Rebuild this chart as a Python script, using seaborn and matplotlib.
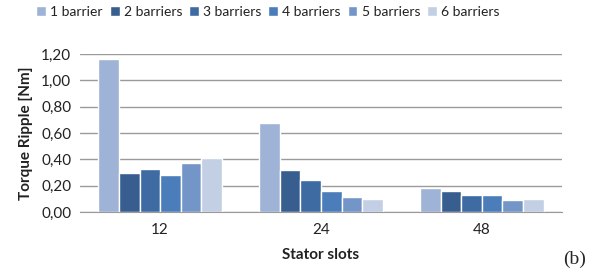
import seaborn as sns
import matplotlib.pyplot as plt
import pandas as pd
from matplotlib.ticker import FuncFormatter, FixedLocator

slots = ['12', '24', '48']
barriers = ['1 barrier', '2 barriers', '3 barriers', '4 barriers', '5 barriers', '6 barriers']
b1 = [1.16, 0.68, 0.18]
b2 = [0.30, 0.32, 0.16]
b3 = [0.33, 0.24, 0.13]
b4 = [0.28, 0.16, 0.13]
b5 = [0.37, 0.11, 0.09]
b6 = [0.41, 0.10, 0.10]
colors = ['#9EB3D5', '#375E8E', '#3E6BA2', '#4A7DB9', '#7395C8', '#C2CFE4']

rows = []
for name, vals in zip(barriers, [b1, b2, b3, b4, b5, b6]):
    for s, v in zip(slots, vals):
        rows.append({'slots': s, 'barrier': name, 'ripple': v})
df = pd.DataFrame(rows)

sns.set_style('white')
plt.rcParams['font.family'] = ['Lato', 'DejaVu Sans']

fig = plt.figure(figsize=(5.95, 2.76), dpi=100)
ax = fig.add_axes([0.134, 0.232, 0.811, 0.572])
sns.barplot(data=df, x='slots', y='ripple', hue='barrier', order=slots,
            hue_order=barriers, palette=colors, width=0.77, gap=0,
            saturation=1, ax=ax, legend=True)

ax.set_ylim(0, 1.2)
ax.set_xlim(-0.5, 2.5)
ax.set_yticks([0, 0.2, 0.4, 0.6, 0.8, 1.0, 1.2])
ax.yaxis.set_major_formatter(FuncFormatter(lambda v, p: f'{v:.2f}'.replace('.', ',')))
ax.grid(axis='y', color='#9A9A9A', linewidth=1)
ax.set_axisbelow(True)
for s in ['top', 'right', 'left']:
    ax.spines[s].set_visible(False)
ax.spines['bottom'].set_color('#9A9A9A')
ax.tick_params(axis='y', labelsize=11, length=0, pad=6, colors='#222222')
ax.tick_params(axis='x', labelsize=11, length=0, pad=8, colors='#222222')
ax.xaxis.set_minor_locator(FixedLocator([-0.5, 0.5, 1.5, 2.5]))
ax.tick_params(axis='x', which='minor', length=5, color='#9A9A9A', direction='out')
ax.set_xlabel('Stator slots', fontsize=11, fontweight='bold', labelpad=8, color='#222222')
ax.set_ylabel('Torque Ripple [Nm]', fontsize=11, fontweight='bold', labelpad=6, color='#222222')

handles, labels = ax.get_legend_handles_labels()
ax.legend(handles, labels, loc='upper center', bbox_to_anchor=(0.39, 1.385), ncol=6,
          frameon=False, fontsize=10, handlelength=0.7, handleheight=0.7,
          handletextpad=0.3, columnspacing=0.5, labelcolor='#222222')

fig.text(0.985, 0.03, '(b)', family='Liberation Serif', fontsize=14, ha='right', va='bottom')

fig.savefig('out.png', dpi=100)
